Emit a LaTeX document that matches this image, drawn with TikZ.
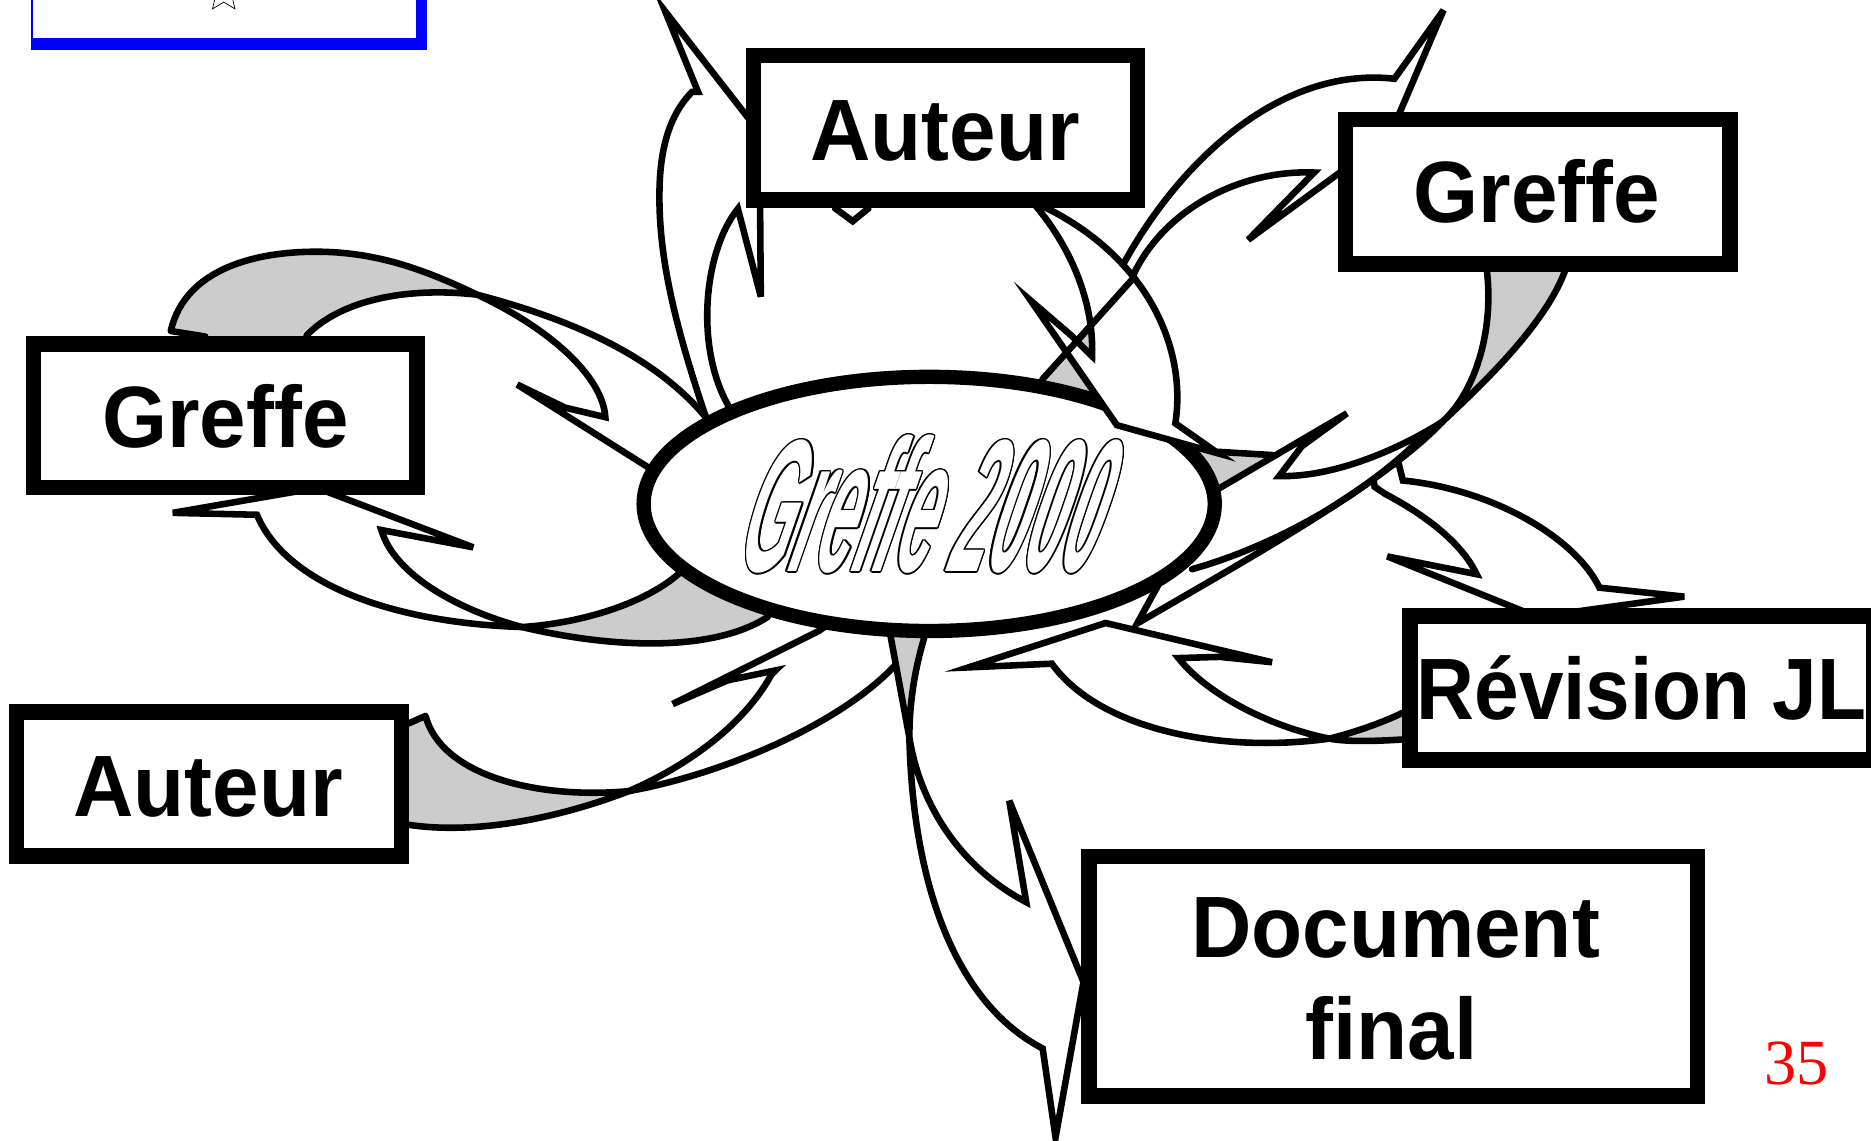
\documentclass[tikz,border=0pt]{standalone}
\usepackage{fontspec}
\usetikzlibrary{shapes.geometric}
\newfontfamily\boxfont[FakeStretch=0.96]{Liberation Sans}
\newfontfamily\boxfontn[FakeStretch=0.92]{Liberation Sans}
\newfontfamily\gfont[FakeStretch=0.35,FakeSlant=0.28]{Liberation Sans}
\newfontfamily\numfont{Liberation Serif}
\definecolor{bandgray}{HTML}{CCCCCC}
\definecolor{slideblue}{HTML}{0000FF}
\tikzset{
  arw/.style={draw=black, fill=white, line width=5.5pt, line join=miter, miter limit=8},
  gry/.style={draw=black, fill=bandgray, line width=5.5pt, line join=round},
  foldline/.style={draw=black, line width=5.5pt, line cap=round},
  boxframe/.style={draw=black, fill=white, line width=13pt, inner sep=0pt, rectangle},
  lbl/.style={inner sep=0pt, anchor=base, text=black, font=\boxfont\bfseries\fontsize{73}{80}\selectfont},
  gtext/.style={inner sep=0pt, anchor=base, font=\gfont\bfseries\itshape\fontsize{158}{160}\selectfont},
}
\begin{document}
\begin{tikzpicture}[x=1pt,y=-1pt]
\useasboundingbox (0,0) rectangle (1568,955.4);
\fill[white] (0,0) rectangle (1568,955.4);

% ---- Revision top arrow (under the Greffe arrow)
\draw[arw] (1150,395) -- (1152,408) -- (1160.8,413.9) .. controls (1195,432) and (1225,455) .. (1237.5,481.2) -- (1162.6,466.3) -- (1288.4,517) -- (1411.5,500) -- (1340.4,492.5) .. controls (1320,450) and (1250,410) .. (1175.7,402.7) -- (1172,388) -- cycle;

% ---- small grey patch right of the ellipse
\fill[bandgray] (1005,379) -- (1020,378.6) -- (1067,381.4) -- (1069,382) -- (1022,409.5) -- (1005,409.5) -- cycle;
\draw[foldline] (1020,378.6) -- (1067,381.4);

% ---- Greffe (top right) -> ellipse
\draw[gry] (1246.2,220) -- (1246.2,228) .. controls (1252,280) and (1235,330) .. (1208.7,353.5) .. controls (1250,315) and (1295,270) .. (1311.2,228) -- (1311.2,220) -- cycle;
\draw[arw] (1208.7,353.5) .. controls (1175,375) and (1120,400) .. (1072,399) -- (1091,374) -- (1128.8,346.4) -- (1012,415) -- (953,522.5) .. controls (1050,466) and (1160,405) .. (1208.7,353.5) -- cycle;
\draw[foldline] (1196,362) .. controls (1140,420) and (1060,460) .. (999,477);

% ---- ellipse -> Greffe (top right)
\draw[gry] (949,234) -- (873.5,318) -- (876,348) -- (930,348) -- (940,232) -- cycle;
\draw[arw] (940,224) .. controls (985,140) and (1070,55) .. (1168.6,66) -- (1209.7,8.5) -- (1164.7,113.9) -- (1046,201) -- (1101.3,144.6) .. controls (1040,142) and (975,175) .. (949,232) -- cycle;

% ---- small notch under the top Auteur box
\draw[arw] (700.2,168) -- (700.2,174.8) -- (714.6,185.4) -- (727.5,174.8) -- (727.5,168) -- cycle;

% ---- ellipse -> Auteur (top)
\draw[arw] (605,372) -- (591,348) .. controls (565,270) and (550,210) .. (553,150) .. controls (555,115) and (565,92) .. (580,77) -- (585,77) -- (557.5,9.6) -- (636.5,111) -- (637.6,248.6) -- (618.4,175) .. controls (590,210) and (582,290) .. (610.4,340) -- (622,368) -- cycle;

% ---- Greffe (left) -> ellipse
\draw[gry] (400,247) .. controls (360,228) and (320,212) .. (270,211) .. controls (215,210) and (155,225) .. (143.1,277.4) -- (172,282) -- (172,300) -- (257,300) -- (257,281) .. controls (285,252) and (340,240) .. (400,247) -- cycle;
\draw[arw] (400,247) .. controls (480,268) and (555,300) .. (598,358) -- (615,385) -- (570,408.6) -- (433.5,322.3) -- (473.6,341.6) -- (507.3,349.6) .. controls (505,315) and (460,275) .. (400,247) -- cycle;

% ---- ellipse -> Greffe (left)
\draw[arw] (265.7,408.9) -- (144.8,429.8) -- (215.3,431.4) .. controls (240,490) and (330,522) .. (437.5,525.5) .. controls (380,510) and (330,480) .. (319.6,444.2) -- (396.6,458.7) -- cycle;
\draw[gry] (437.5,525.5) .. controls (520,545) and (600,545) .. (643.3,517.1) -- (650,495) -- (580,472) -- (567.1,482.3) .. controls (540,505) and (490,522) .. (437.5,525.5) -- cycle;

% ---- Auteur (bottom) -> ellipse
\draw[gry] (330,606.6) -- (341.7,606.6) -- (356.6,600) .. controls (370,650) and (450,670) .. (527,663) .. controls (470,685) and (400,700) .. (341.7,691.1) -- (330,691.1) -- cycle;
\draw[arw] (527,663) .. controls (580,640) and (625,605) .. (646.6,565.1) -- (650,561.8) -- (610.1,570.1) -- (563.7,590) -- (686.3,528.7) -- (720,505) -- (762,530) -- (758,548) -- (749.3,558.5) .. controls (700,610) and (600,650) .. (527,663) -- cycle;

% ---- ellipse -> Document final
\draw[gry] (744,515) -- (746.6,534.5) -- (762.1,618.2) .. controls (762,580) and (770,550) .. (774.5,534.5) -- (777,515) -- cycle;
\draw[arw] (762.1,618.2) .. controls (765,740) and (800,840) .. (873.8,878.7) -- (884.6,953.2) -- (908,823) -- (845.8,671) -- (860,756) .. controls (810,730) and (772,680) .. (762.1,618.2) -- cycle;

% ---- Revision JL -> ellipse
\draw[arw] (926.5,522.1) -- (1066,555) -- (1022.4,550.5) -- (987.6,551.5) .. controls (1010,580) and (1060,608) .. (1114,619) .. controls (1020,632) and (920,610) .. (881.5,556.2) -- (811.7,559.3) -- cycle;
\draw[gry] (1114,619) .. controls (1135,614) and (1160,605) .. (1175.7,597.2) -- (1190,597) -- (1190,620) -- (1175.7,619.7) .. controls (1155,621) and (1130,622) .. (1114,619) -- cycle;

% ---- central ellipse
\node[ellipse, draw=black, fill=white, line width=12pt, minimum width=478.6pt, minimum height=213pt, inner sep=0pt] (hub) at (778.7,422.3) {};
\foreach \a in {0,30,...,330}
  \node[gtext, text=black, xshift={1.2pt*cos(\a)}, yshift={1.2pt*sin(\a)}] (gc\a) at (766,479) {Greffe 2000};
\node[gtext, text=white] (gmain) at (766,479) {Greffe 2000};

% ---- ellipse -> Auteur (top), right arrow, drawn over the ellipse
\draw[arw] (868.7,160) -- (868.7,173.4) .. controls (895,205) and (917,250) .. (915.2,298.5) -- (897.5,280.9) -- (863.9,252) -- (936,356.3) -- (1021,380) -- (985,354.8) .. controls (995,290) and (960,215) .. (875,173.4) -- (875,160) -- cycle;
\draw[foldline] (949,234) -- (894.5,294.7);

% ---- boxes
\node[boxframe, minimum width=321.7pt, minimum height=120.8pt] (bAT) at (792.35,107.1) {};
\node[boxframe, minimum width=322pt, minimum height=120.8pt] (bGT) at (1288.7,160.7) {};
\node[boxframe, minimum width=321.5pt, minimum height=120.2pt] (bGL) at (188.75,348.4) {};
\node[boxframe, minimum width=322.5pt, minimum height=120.8pt] (bAB) at (175.25,657.1) {};
\node[boxframe, minimum width=388.5pt, minimum height=120.8pt] (bRJ) at (1375.95,576.7) {};
\node[boxframe, minimum width=510pt, minimum height=200.8pt] (bDF) at (1167.7,818.1) {};

\node[lbl] (tAT) at (792,134.1) {Auteur};
\node[lbl] (tGT) at (1288,186.3) {Greffe};
\node[lbl] (tGL) at (189,375.3) {Greffe};
\node[lbl] (tAB) at (174.5,684.1) {Auteur};
\node[lbl, font=\boxfontn\bfseries\fontsize{73}{80}\selectfont] (tRJ) at (1375.7,602.7) {Révision JL};
\node[lbl] (tD1) at (1169.5,802.3) {Document};
\node[lbl] (tD2) at (1166,887.6) {final};

% ---- slide remnants
\fill[slideblue] (26,-20) rectangle (358,41.7);
\fill[white] (27.8,-20) rectangle (348.5,31.7);
\node[star, star points=5, star point ratio=2.2, draw=black, line width=0.6pt, minimum size=32pt, inner sep=0pt] (st) at (187.5,-5.5) {};
\node[inner sep=0pt, anchor=base, text=red, font=\numfont\fontsize{54}{60}\selectfont] (pg) at (1505.4,909) {35};
\end{tikzpicture}
\end{document}
